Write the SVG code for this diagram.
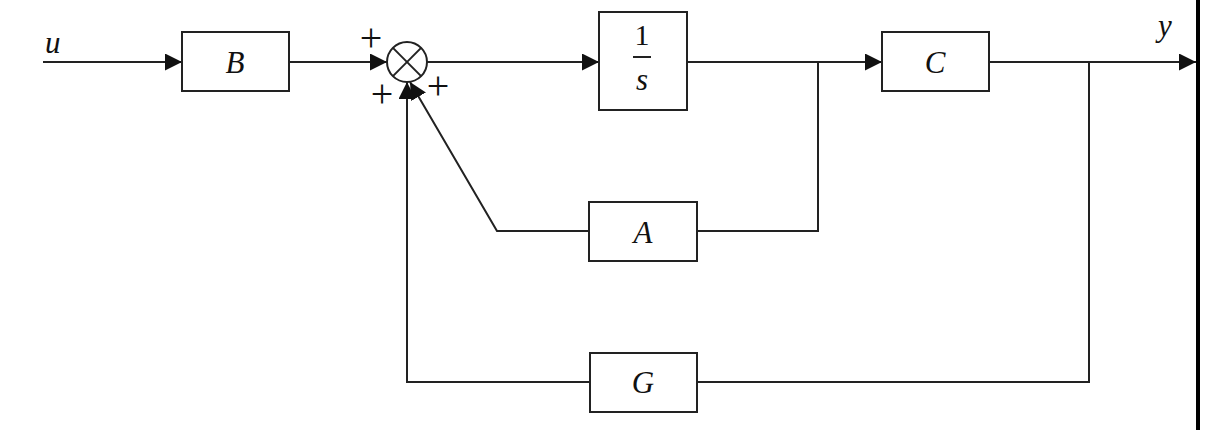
<svg xmlns="http://www.w3.org/2000/svg" width="1210" height="430" viewBox="0 0 1210 430">
<style>
.blk{fill:#fff;stroke:#222;stroke-width:2}
.ln{fill:none;stroke:#222;stroke-width:2}
.lbl{font-family:"Liberation Serif",serif;font-style:italic;font-size:31px;fill:#111}
.num{font-family:"Liberation Serif",serif;font-size:30px;fill:#111}
.sg{font-family:"Liberation Serif",serif;font-size:40px;fill:#111}
</style>
<defs>
<marker id="ah" markerUnits="userSpaceOnUse" markerWidth="18" markerHeight="18" refX="17" refY="8.5" orient="auto">
<path d="M0,0 L17,8.5 L0,17 z" fill="#111"/>
</marker>
</defs>
<rect width="1210" height="430" fill="#fff"/>
<g id="connectors">
<line class="ln" x1="43" y1="62" x2="182" y2="62" marker-end="url(#ah)"/>
<line class="ln" x1="289" y1="62" x2="387" y2="62" marker-end="url(#ah)"/>
<line class="ln" x1="427" y1="62" x2="599" y2="62" marker-end="url(#ah)"/>
<line class="ln" x1="687" y1="62" x2="882" y2="62" marker-end="url(#ah)"/>
<line class="ln" x1="989" y1="62" x2="1196" y2="62" marker-end="url(#ah)"/>
<polyline class="ln" points="697,231 818,231 818,62"/>
<polyline class="ln" points="589,231 497,231 410,82" marker-end="url(#ah)"/>
<polyline class="ln" points="1089,62 1089,382 697,382"/>
<polyline class="ln" points="590,382 407,382 407,82" marker-end="url(#ah)"/>
</g>
<g id="sum">
<circle cx="407" cy="62" r="20" class="blk"/>
<line class="ln" x1="392.9" y1="47.9" x2="421.1" y2="76.1"/>
<line class="ln" x1="421.1" y1="47.9" x2="392.9" y2="76.1"/>
<text class="sg" x="371" y="51" text-anchor="middle">+</text>
<text class="sg" x="382" y="107" text-anchor="middle">+</text>
<text class="sg" x="438" y="99" text-anchor="middle">+</text>
</g>
<g id="B">
<rect class="blk" x="182" y="32" width="107" height="59"/>
<text class="lbl" x="235" y="73" text-anchor="middle">B</text>
</g>
<g id="integrator">
<rect class="blk" x="599" y="12" width="88" height="98"/>
<text class="num" x="642" y="45" text-anchor="middle">1</text>
<line class="ln" x1="633" y1="57" x2="651" y2="57"/>
<text class="lbl" x="642" y="90" text-anchor="middle">s</text>
</g>
<g id="C">
<rect class="blk" x="882" y="32" width="107" height="59"/>
<text class="lbl" x="935" y="73" text-anchor="middle">C</text>
</g>
<g id="A">
<rect class="blk" x="589" y="202" width="108" height="59"/>
<text class="lbl" x="643" y="243" text-anchor="middle">A</text>
</g>
<g id="G">
<rect class="blk" x="590" y="353" width="107" height="59"/>
<text class="lbl" x="643" y="393" text-anchor="middle">G</text>
</g>
<g id="labels">
<text class="lbl" x="45" y="53">u</text>
<text class="lbl" x="1158" y="36">y</text>
</g>
<rect id="border" x="1196" y="0" width="4" height="430" fill="#000"/>
</svg>
